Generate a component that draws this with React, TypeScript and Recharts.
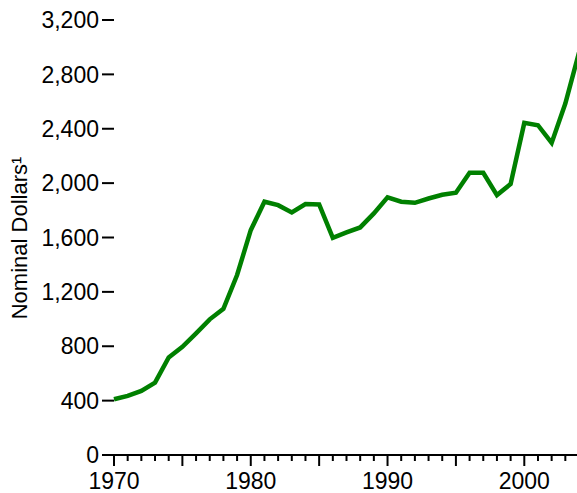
import React from 'react';
import { LineChart, Line, XAxis, YAxis } from 'recharts';

const years = [1970,1971,1972,1973,1974,1975,1976,1977,1978,1979,1980,1981,1982,1983,1984,1985,1986,1987,1988,1989,1990,1991,1992,1993,1994,1995,1996,1997,1998,1999,2000,2001,2002,2003,2004];
const values = [410,435,472,532,718,796,895,998,1076,1324,1654,1863,1838,1784,1846,1843,1598,1637,1674,1777,1895,1863,1855,1887,1914,1929,2076,2076,1912,1993,2443,2426,2296,2586,2960];
const yTicks = [0,400,800,1200,1600,2000,2400,2800,3200];
const xLabelYears = [1970,1980,1990,2000];
const yLabel = 'Nominal Dollars\u00b9';

const data = years.map((y, i) => ({ year: y, value: values[i] }));

const FONT = 'Liberation Sans, Arial, sans-serif';

const XTick = (props: any) => {
  const { x, y, payload } = props;
  const yr = payload.value as number;
  const major = yr % 5 === 0;
  const len = major ? 11 : 6;
  return (
    <g>
      <line x1={x} x2={x} y1={y} y2={y + len} stroke="#000" strokeWidth={2} />
      {xLabelYears.includes(yr) && (
        <text x={x} y={y + 34} textAnchor="middle" fontSize={23} fontFamily={FONT} fill="#000">
          {yr}
        </text>
      )}
    </g>
  );
};

export default function App() {
  return (
    <div style={{ position: 'absolute', left: 0, top: 0, width: 577, height: 493, overflow: 'hidden', background: '#fff' }}>
      <LineChart width={580} height={493} data={data} margin={{ top: 20, right: 1, bottom: 0, left: 0 }}>
        <XAxis
          dataKey="year"
          type="number"
          domain={[1970, 2004]}
          ticks={years}
          interval={0}
          tickLine={false}
          tickSize={0}
          tickMargin={0}
          axisLine={{ stroke: '#000', strokeWidth: 2 }}
          height={38}
          tick={<XTick />}
        />
        <YAxis
          type="number"
          domain={[0, 3200]}
          ticks={yTicks}
          interval={0}
          width={114}
          axisLine={false}
          tickSize={12}
          tickMargin={3}
          tickLine={{ stroke: '#000', strokeWidth: 2 }}
          tick={{ fill: '#000', fontSize: 23, fontFamily: FONT }}
          tickFormatter={(v: number) => v.toLocaleString('en-US')}
          label={{
            content: () => (
              <text
                x={27}
                y={238}
                transform="rotate(-90 27 238)"
                textAnchor="middle"
                fontSize={22}
                fontFamily={FONT}
                fill="#000"
              >
                {yLabel}
              </text>
            ),
          }}
        />
        <Line
          type="linear"
          dataKey="value"
          stroke="#008000"
          strokeWidth={4.5}
          dot={false}
          isAnimationActive={false}
          strokeLinejoin="miter"
        />
      </LineChart>
    </div>
  );
}
